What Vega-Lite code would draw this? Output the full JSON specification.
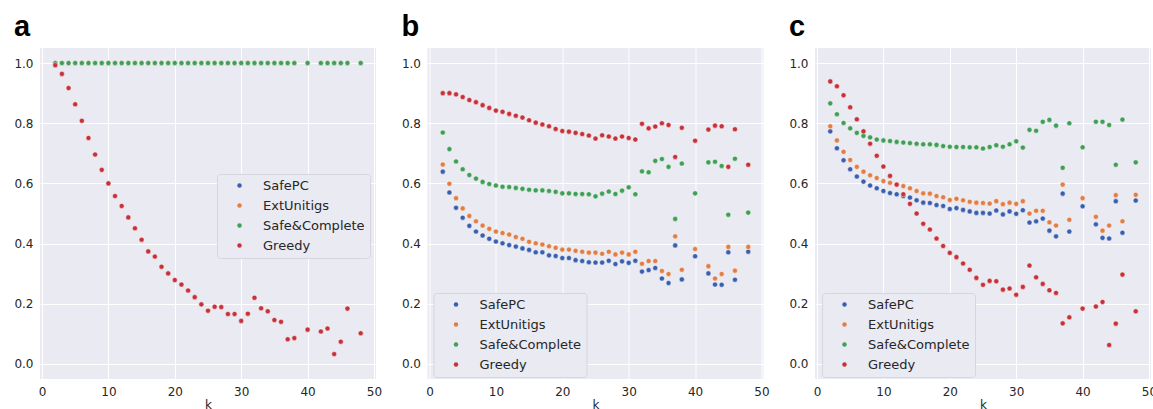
{
  "$schema": "https://vega.github.io/schema/vega-lite/v6.json",
  "padding": {"left": 13, "top": 13, "right": 0, "bottom": 0},
  "background": "white",
  "spacing": 51.5,
  "bounds": "flush",
  "resolve": {"legend": {"color": "independent"}},
  "data": {"values": [
    {"p":"a","k":2,"SafePC":1,"ExtUnitigs":1,"Safe&Complete":1,"Greedy":0.993},
    {"p":"a","k":3,"SafePC":1,"ExtUnitigs":1,"Safe&Complete":1,"Greedy":0.964},
    {"p":"a","k":4,"SafePC":1,"ExtUnitigs":1,"Safe&Complete":1,"Greedy":0.917},
    {"p":"a","k":5,"SafePC":1,"ExtUnitigs":1,"Safe&Complete":1,"Greedy":0.863},
    {"p":"a","k":6,"SafePC":1,"ExtUnitigs":1,"Safe&Complete":1,"Greedy":0.808},
    {"p":"a","k":7,"SafePC":1,"ExtUnitigs":1,"Safe&Complete":1,"Greedy":0.751},
    {"p":"a","k":8,"SafePC":1,"ExtUnitigs":1,"Safe&Complete":1,"Greedy":0.696},
    {"p":"a","k":9,"SafePC":1,"ExtUnitigs":1,"Safe&Complete":1,"Greedy":0.645},
    {"p":"a","k":10,"SafePC":1,"ExtUnitigs":1,"Safe&Complete":1,"Greedy":0.600},
    {"p":"a","k":11,"SafePC":1,"ExtUnitigs":1,"Safe&Complete":1,"Greedy":0.558},
    {"p":"a","k":12,"SafePC":1,"ExtUnitigs":1,"Safe&Complete":1,"Greedy":0.525},
    {"p":"a","k":13,"SafePC":1,"ExtUnitigs":1,"Safe&Complete":1,"Greedy":0.487},
    {"p":"a","k":14,"SafePC":1,"ExtUnitigs":1,"Safe&Complete":1,"Greedy":0.451},
    {"p":"a","k":15,"SafePC":1,"ExtUnitigs":1,"Safe&Complete":1,"Greedy":0.413},
    {"p":"a","k":16,"SafePC":1,"ExtUnitigs":1,"Safe&Complete":1,"Greedy":0.374},
    {"p":"a","k":17,"SafePC":1,"ExtUnitigs":1,"Safe&Complete":1,"Greedy":0.357},
    {"p":"a","k":18,"SafePC":1,"ExtUnitigs":1,"Safe&Complete":1,"Greedy":0.323},
    {"p":"a","k":19,"SafePC":1,"ExtUnitigs":1,"Safe&Complete":1,"Greedy":0.301},
    {"p":"a","k":20,"SafePC":1,"ExtUnitigs":1,"Safe&Complete":1,"Greedy":0.279},
    {"p":"a","k":21,"SafePC":1,"ExtUnitigs":1,"Safe&Complete":1,"Greedy":0.264},
    {"p":"a","k":22,"SafePC":1,"ExtUnitigs":1,"Safe&Complete":1,"Greedy":0.244},
    {"p":"a","k":23,"SafePC":1,"ExtUnitigs":1,"Safe&Complete":1,"Greedy":0.222},
    {"p":"a","k":24,"SafePC":1,"ExtUnitigs":1,"Safe&Complete":1,"Greedy":0.198},
    {"p":"a","k":25,"SafePC":1,"ExtUnitigs":1,"Safe&Complete":1,"Greedy":0.177},
    {"p":"a","k":26,"SafePC":1,"ExtUnitigs":1,"Safe&Complete":1,"Greedy":0.190},
    {"p":"a","k":27,"SafePC":1,"ExtUnitigs":1,"Safe&Complete":1,"Greedy":0.189},
    {"p":"a","k":28,"SafePC":1,"ExtUnitigs":1,"Safe&Complete":1,"Greedy":0.166},
    {"p":"a","k":29,"SafePC":1,"ExtUnitigs":1,"Safe&Complete":1,"Greedy":0.166},
    {"p":"a","k":30,"SafePC":1,"ExtUnitigs":1,"Safe&Complete":1,"Greedy":0.143},
    {"p":"a","k":31,"SafePC":1,"ExtUnitigs":1,"Safe&Complete":1,"Greedy":0.167},
    {"p":"a","k":32,"SafePC":1,"ExtUnitigs":1,"Safe&Complete":1,"Greedy":0.220},
    {"p":"a","k":33,"SafePC":1,"ExtUnitigs":1,"Safe&Complete":1,"Greedy":0.185},
    {"p":"a","k":34,"SafePC":1,"ExtUnitigs":1,"Safe&Complete":1,"Greedy":0.175},
    {"p":"a","k":35,"SafePC":1,"ExtUnitigs":1,"Safe&Complete":1,"Greedy":0.146},
    {"p":"a","k":36,"SafePC":1,"ExtUnitigs":1,"Safe&Complete":1,"Greedy":0.140},
    {"p":"a","k":37,"SafePC":1,"ExtUnitigs":1,"Safe&Complete":1,"Greedy":0.082},
    {"p":"a","k":38,"SafePC":1,"ExtUnitigs":1,"Safe&Complete":1,"Greedy":0.086},
    {"p":"a","k":40,"SafePC":1,"ExtUnitigs":1,"Safe&Complete":1,"Greedy":0.114},
    {"p":"a","k":42,"SafePC":1,"ExtUnitigs":1,"Safe&Complete":1,"Greedy":0.108},
    {"p":"a","k":43,"SafePC":1,"ExtUnitigs":1,"Safe&Complete":1,"Greedy":0.118},
    {"p":"a","k":44,"SafePC":1,"ExtUnitigs":1,"Safe&Complete":1,"Greedy":0.033},
    {"p":"a","k":45,"SafePC":1,"ExtUnitigs":1,"Safe&Complete":1,"Greedy":0.074},
    {"p":"a","k":46,"SafePC":1,"ExtUnitigs":1,"Safe&Complete":1,"Greedy":0.184},
    {"p":"a","k":48,"SafePC":1,"ExtUnitigs":1,"Safe&Complete":1,"Greedy":0.102},

    {"p":"b","k":2,"SafePC":0.639,"ExtUnitigs":0.663,"Safe&Complete":0.769,"Greedy":0.900},
    {"p":"b","k":3,"SafePC":0.570,"ExtUnitigs":0.599,"Safe&Complete":0.714,"Greedy":0.900},
    {"p":"b","k":4,"SafePC":0.519,"ExtUnitigs":0.551,"Safe&Complete":0.673,"Greedy":0.896},
    {"p":"b","k":5,"SafePC":0.486,"ExtUnitigs":0.517,"Safe&Complete":0.647,"Greedy":0.887},
    {"p":"b","k":6,"SafePC":0.459,"ExtUnitigs":0.492,"Safe&Complete":0.628,"Greedy":0.877},
    {"p":"b","k":7,"SafePC":0.440,"ExtUnitigs":0.474,"Safe&Complete":0.616,"Greedy":0.870},
    {"p":"b","k":8,"SafePC":0.427,"ExtUnitigs":0.460,"Safe&Complete":0.605,"Greedy":0.860},
    {"p":"b","k":9,"SafePC":0.416,"ExtUnitigs":0.449,"Safe&Complete":0.598,"Greedy":0.851},
    {"p":"b","k":10,"SafePC":0.407,"ExtUnitigs":0.440,"Safe&Complete":0.593,"Greedy":0.842},
    {"p":"b","k":11,"SafePC":0.401,"ExtUnitigs":0.435,"Safe&Complete":0.589,"Greedy":0.838},
    {"p":"b","k":12,"SafePC":0.395,"ExtUnitigs":0.430,"Safe&Complete":0.588,"Greedy":0.831},
    {"p":"b","k":13,"SafePC":0.390,"ExtUnitigs":0.422,"Safe&Complete":0.585,"Greedy":0.825},
    {"p":"b","k":14,"SafePC":0.384,"ExtUnitigs":0.416,"Safe&Complete":0.582,"Greedy":0.819},
    {"p":"b","k":15,"SafePC":0.379,"ExtUnitigs":0.406,"Safe&Complete":0.579,"Greedy":0.810},
    {"p":"b","k":16,"SafePC":0.371,"ExtUnitigs":0.401,"Safe&Complete":0.577,"Greedy":0.802},
    {"p":"b","k":17,"SafePC":0.371,"ExtUnitigs":0.397,"Safe&Complete":0.577,"Greedy":0.796},
    {"p":"b","k":18,"SafePC":0.361,"ExtUnitigs":0.391,"Safe&Complete":0.575,"Greedy":0.790},
    {"p":"b","k":19,"SafePC":0.359,"ExtUnitigs":0.386,"Safe&Complete":0.572,"Greedy":0.781},
    {"p":"b","k":20,"SafePC":0.352,"ExtUnitigs":0.380,"Safe&Complete":0.567,"Greedy":0.774},
    {"p":"b","k":21,"SafePC":0.352,"ExtUnitigs":0.380,"Safe&Complete":0.567,"Greedy":0.772},
    {"p":"b","k":22,"SafePC":0.345,"ExtUnitigs":0.376,"Safe&Complete":0.565,"Greedy":0.768},
    {"p":"b","k":23,"SafePC":0.342,"ExtUnitigs":0.373,"Safe&Complete":0.565,"Greedy":0.764},
    {"p":"b","k":24,"SafePC":0.338,"ExtUnitigs":0.370,"Safe&Complete":0.564,"Greedy":0.759},
    {"p":"b","k":25,"SafePC":0.337,"ExtUnitigs":0.370,"Safe&Complete":0.557,"Greedy":0.749},
    {"p":"b","k":26,"SafePC":0.337,"ExtUnitigs":0.366,"Safe&Complete":0.566,"Greedy":0.760},
    {"p":"b","k":27,"SafePC":0.343,"ExtUnitigs":0.373,"Safe&Complete":0.573,"Greedy":0.756},
    {"p":"b","k":28,"SafePC":0.332,"ExtUnitigs":0.364,"Safe&Complete":0.565,"Greedy":0.749},
    {"p":"b","k":29,"SafePC":0.341,"ExtUnitigs":0.370,"Safe&Complete":0.576,"Greedy":0.756},
    {"p":"b","k":30,"SafePC":0.336,"ExtUnitigs":0.364,"Safe&Complete":0.587,"Greedy":0.751},
    {"p":"b","k":31,"SafePC":0.343,"ExtUnitigs":0.373,"Safe&Complete":0.564,"Greedy":0.746},
    {"p":"b","k":32,"SafePC":0.307,"ExtUnitigs":0.333,"Safe&Complete":0.640,"Greedy":0.798},
    {"p":"b","k":33,"SafePC":0.312,"ExtUnitigs":0.342,"Safe&Complete":0.637,"Greedy":0.783},
    {"p":"b","k":34,"SafePC":0.319,"ExtUnitigs":0.342,"Safe&Complete":0.675,"Greedy":0.789},
    {"p":"b","k":35,"SafePC":0.284,"ExtUnitigs":0.309,"Safe&Complete":0.681,"Greedy":0.800},
    {"p":"b","k":36,"SafePC":0.269,"ExtUnitigs":0.299,"Safe&Complete":0.655,"Greedy":0.794},
    {"p":"b","k":37,"SafePC":0.394,"ExtUnitigs":0.424,"Safe&Complete":0.482,"Greedy":0.688},
    {"p":"b","k":38,"SafePC":0.281,"ExtUnitigs":0.313,"Safe&Complete":0.666,"Greedy":0.785},
    {"p":"b","k":40,"SafePC":0.358,"ExtUnitigs":0.382,"Safe&Complete":0.567,"Greedy":0.742},
    {"p":"b","k":42,"SafePC":0.301,"ExtUnitigs":0.325,"Safe&Complete":0.670,"Greedy":0.779},
    {"p":"b","k":43,"SafePC":0.264,"ExtUnitigs":0.284,"Safe&Complete":0.672,"Greedy":0.792},
    {"p":"b","k":44,"SafePC":0.263,"ExtUnitigs":0.299,"Safe&Complete":0.658,"Greedy":0.790},
    {"p":"b","k":45,"SafePC":0.371,"ExtUnitigs":0.389,"Safe&Complete":0.496,"Greedy":0.655},
    {"p":"b","k":46,"SafePC":0.280,"ExtUnitigs":0.310,"Safe&Complete":0.682,"Greedy":0.780},
    {"p":"b","k":48,"SafePC":0.373,"ExtUnitigs":0.389,"Safe&Complete":0.503,"Greedy":0.662},

    {"p":"c","k":2,"SafePC":0.773,"ExtUnitigs":0.790,"Safe&Complete":0.866,"Greedy":0.939},
    {"p":"c","k":3,"SafePC":0.717,"ExtUnitigs":0.743,"Safe&Complete":0.830,"Greedy":0.923},
    {"p":"c","k":4,"SafePC":0.677,"ExtUnitigs":0.705,"Safe&Complete":0.801,"Greedy":0.893},
    {"p":"c","k":5,"SafePC":0.647,"ExtUnitigs":0.678,"Safe&Complete":0.783,"Greedy":0.853},
    {"p":"c","k":6,"SafePC":0.623,"ExtUnitigs":0.655,"Safe&Complete":0.768,"Greedy":0.813},
    {"p":"c","k":7,"SafePC":0.606,"ExtUnitigs":0.639,"Safe&Complete":0.758,"Greedy":0.773},
    {"p":"c","k":8,"SafePC":0.593,"ExtUnitigs":0.627,"Safe&Complete":0.753,"Greedy":0.732},
    {"p":"c","k":9,"SafePC":0.584,"ExtUnitigs":0.618,"Safe&Complete":0.746,"Greedy":0.692},
    {"p":"c","k":10,"SafePC":0.575,"ExtUnitigs":0.608,"Safe&Complete":0.743,"Greedy":0.656},
    {"p":"c","k":11,"SafePC":0.568,"ExtUnitigs":0.602,"Safe&Complete":0.741,"Greedy":0.625},
    {"p":"c","k":12,"SafePC":0.564,"ExtUnitigs":0.596,"Safe&Complete":0.738,"Greedy":0.596},
    {"p":"c","k":13,"SafePC":0.558,"ExtUnitigs":0.591,"Safe&Complete":0.736,"Greedy":0.564},
    {"p":"c","k":14,"SafePC":0.553,"ExtUnitigs":0.584,"Safe&Complete":0.734,"Greedy":0.532},
    {"p":"c","k":15,"SafePC":0.544,"ExtUnitigs":0.575,"Safe&Complete":0.732,"Greedy":0.500},
    {"p":"c","k":16,"SafePC":0.536,"ExtUnitigs":0.567,"Safe&Complete":0.730,"Greedy":0.466},
    {"p":"c","k":17,"SafePC":0.535,"ExtUnitigs":0.566,"Safe&Complete":0.730,"Greedy":0.447},
    {"p":"c","k":18,"SafePC":0.528,"ExtUnitigs":0.558,"Safe&Complete":0.728,"Greedy":0.417},
    {"p":"c","k":19,"SafePC":0.525,"ExtUnitigs":0.554,"Safe&Complete":0.724,"Greedy":0.392},
    {"p":"c","k":20,"SafePC":0.515,"ExtUnitigs":0.545,"Safe&Complete":0.722,"Greedy":0.369},
    {"p":"c","k":21,"SafePC":0.518,"ExtUnitigs":0.549,"Safe&Complete":0.721,"Greedy":0.355},
    {"p":"c","k":22,"SafePC":0.512,"ExtUnitigs":0.544,"Safe&Complete":0.721,"Greedy":0.334},
    {"p":"c","k":23,"SafePC":0.507,"ExtUnitigs":0.539,"Safe&Complete":0.720,"Greedy":0.313},
    {"p":"c","k":24,"SafePC":0.502,"ExtUnitigs":0.536,"Safe&Complete":0.720,"Greedy":0.286},
    {"p":"c","k":25,"SafePC":0.502,"ExtUnitigs":0.535,"Safe&Complete":0.716,"Greedy":0.263},
    {"p":"c","k":26,"SafePC":0.500,"ExtUnitigs":0.533,"Safe&Complete":0.721,"Greedy":0.276},
    {"p":"c","k":27,"SafePC":0.510,"ExtUnitigs":0.541,"Safe&Complete":0.727,"Greedy":0.275},
    {"p":"c","k":28,"SafePC":0.497,"ExtUnitigs":0.531,"Safe&Complete":0.722,"Greedy":0.247},
    {"p":"c","k":29,"SafePC":0.507,"ExtUnitigs":0.536,"Safe&Complete":0.730,"Greedy":0.251},
    {"p":"c","k":30,"SafePC":0.499,"ExtUnitigs":0.532,"Safe&Complete":0.740,"Greedy":0.230},
    {"p":"c","k":31,"SafePC":0.511,"ExtUnitigs":0.541,"Safe&Complete":0.719,"Greedy":0.256},
    {"p":"c","k":32,"SafePC":0.470,"ExtUnitigs":0.500,"Safe&Complete":0.778,"Greedy":0.327},
    {"p":"c","k":33,"SafePC":0.474,"ExtUnitigs":0.509,"Safe&Complete":0.775,"Greedy":0.288},
    {"p":"c","k":34,"SafePC":0.483,"ExtUnitigs":0.509,"Safe&Complete":0.805,"Greedy":0.266},
    {"p":"c","k":35,"SafePC":0.443,"ExtUnitigs":0.471,"Safe&Complete":0.811,"Greedy":0.245},
    {"p":"c","k":36,"SafePC":0.424,"ExtUnitigs":0.460,"Safe&Complete":0.792,"Greedy":0.236},
    {"p":"c","k":37,"SafePC":0.566,"ExtUnitigs":0.596,"Safe&Complete":0.652,"Greedy":0.135},
    {"p":"c","k":38,"SafePC":0.440,"ExtUnitigs":0.479,"Safe&Complete":0.800,"Greedy":0.155},
    {"p":"c","k":40,"SafePC":0.524,"ExtUnitigs":0.551,"Safe&Complete":0.720,"Greedy":0.184},
    {"p":"c","k":42,"SafePC":0.464,"ExtUnitigs":0.489,"Safe&Complete":0.805,"Greedy":0.191},
    {"p":"c","k":43,"SafePC":0.419,"ExtUnitigs":0.443,"Safe&Complete":0.805,"Greedy":0.206},
    {"p":"c","k":44,"SafePC":0.417,"ExtUnitigs":0.460,"Safe&Complete":0.794,"Greedy":0.063},
    {"p":"c","k":45,"SafePC":0.541,"ExtUnitigs":0.561,"Safe&Complete":0.662,"Greedy":0.134},
    {"p":"c","k":46,"SafePC":0.436,"ExtUnitigs":0.474,"Safe&Complete":0.812,"Greedy":0.297},
    {"p":"c","k":48,"SafePC":0.543,"ExtUnitigs":0.562,"Safe&Complete":0.670,"Greedy":0.175}
  ]},
  "hconcat": [
    {
      "width": 336, "height": 331,
      "title": {"text": "a"},
      "transform": [{"filter": "datum.p === 'a'"}, {"fold": ["SafePC", "ExtUnitigs", "Safe&Complete", "Greedy"], "as": ["method", "value"]}],
      "mark": {"type": "point", "filled": true, "size": 26, "stroke": "white", "strokeWidth": 0.5, "opacity": 1},
      "encoding": {
        "x": {"field": "k", "type": "quantitative", "scale": {"domain": [-0.3, 50.3], "nice": false, "zero": false}, "axis": {"values": [0, 10, 20, 30, 40, 50], "title": "k"}},
        "y": {"field": "value", "type": "quantitative", "scale": {"domain": [-0.05, 1.05], "nice": false, "zero": false}, "axis": {"values": [0, 0.2, 0.4, 0.6, 0.8, 1.0], "format": ".1f", "title": null}},
        "color": {"field": "method", "type": "nominal", "scale": {"domain": ["SafePC", "ExtUnitigs", "Safe&Complete", "Greedy"], "range": ["#3A5FAE", "#E07E45", "#3F9F55", "#C73239"]}, "legend": {"orient": "none", "legendX": 177, "legendY": 126, "title": null}}
      }
    },
    {
      "width": 336, "height": 331,
      "title": {"text": "b"},
      "transform": [{"filter": "datum.p === 'b'"}, {"fold": ["SafePC", "ExtUnitigs", "Safe&Complete", "Greedy"], "as": ["method", "value"]}],
      "mark": {"type": "point", "filled": true, "size": 26, "stroke": "white", "strokeWidth": 0.5, "opacity": 1},
      "encoding": {
        "x": {"field": "k", "type": "quantitative", "scale": {"domain": [-0.3, 50.3], "nice": false, "zero": false}, "axis": {"values": [0, 10, 20, 30, 40, 50], "title": "k"}},
        "y": {"field": "value", "type": "quantitative", "scale": {"domain": [-0.05, 1.05], "nice": false, "zero": false}, "axis": {"values": [0, 0.2, 0.4, 0.6, 0.8, 1.0], "format": ".1f", "title": null}},
        "color": {"field": "method", "type": "nominal", "scale": {"domain": ["SafePC", "ExtUnitigs", "Safe&Complete", "Greedy"], "range": ["#3A5FAE", "#E07E45", "#3F9F55", "#C73239"]}, "legend": {"orient": "none", "legendX": 6, "legendY": 245, "title": null}}
      }
    },
    {
      "width": 336, "height": 331,
      "title": {"text": "c"},
      "transform": [{"filter": "datum.p === 'c'"}, {"fold": ["SafePC", "ExtUnitigs", "Safe&Complete", "Greedy"], "as": ["method", "value"]}],
      "mark": {"type": "point", "filled": true, "size": 26, "stroke": "white", "strokeWidth": 0.5, "opacity": 1},
      "encoding": {
        "x": {"field": "k", "type": "quantitative", "scale": {"domain": [-0.3, 50.3], "nice": false, "zero": false}, "axis": {"values": [0, 10, 20, 30, 40, 50], "title": "k"}},
        "y": {"field": "value", "type": "quantitative", "scale": {"domain": [-0.05, 1.05], "nice": false, "zero": false}, "axis": {"values": [0, 0.2, 0.4, 0.6, 0.8, 1.0], "format": ".1f", "title": null}},
        "color": {"field": "method", "type": "nominal", "scale": {"domain": ["SafePC", "ExtUnitigs", "Safe&Complete", "Greedy"], "range": ["#3A5FAE", "#E07E45", "#3F9F55", "#C73239"]}, "legend": {"orient": "none", "legendX": 7, "legendY": 245, "title": null}}
      }
    }
  ],
  "config": {
    "view": {"fill": "#EAEAF2", "stroke": null},
    "title": {"anchor": "start", "dx": 0, "offset": 6, "fontSize": 29, "font": "Liberation Sans", "fontWeight": "bold", "color": "#000000"},
    "axis": {"domain": false, "ticks": false, "grid": true, "gridColor": "#FFFFFF", "gridWidth": 1, "labelFont": "DejaVu Sans", "labelFontSize": 12, "labelColor": "#262626", "labelPadding": 7, "titleFont": "DejaVu Sans", "titleFontSize": 12, "titleFontWeight": "normal", "titleColor": "#262626", "titlePadding": 2},
    "legend": {"padding": 5, "symbolOffset": 11, "labelOffset": 17, "rowPadding": 6, "fillColor": "#EAEAF2", "strokeColor": "#D6D6DE", "cornerRadius": 3, "labelFont": "DejaVu Sans", "labelFontSize": 13, "labelColor": "#262626", "symbolSize": 20, "symbolType": "circle", "symbolStrokeWidth": 0}
  }
}
